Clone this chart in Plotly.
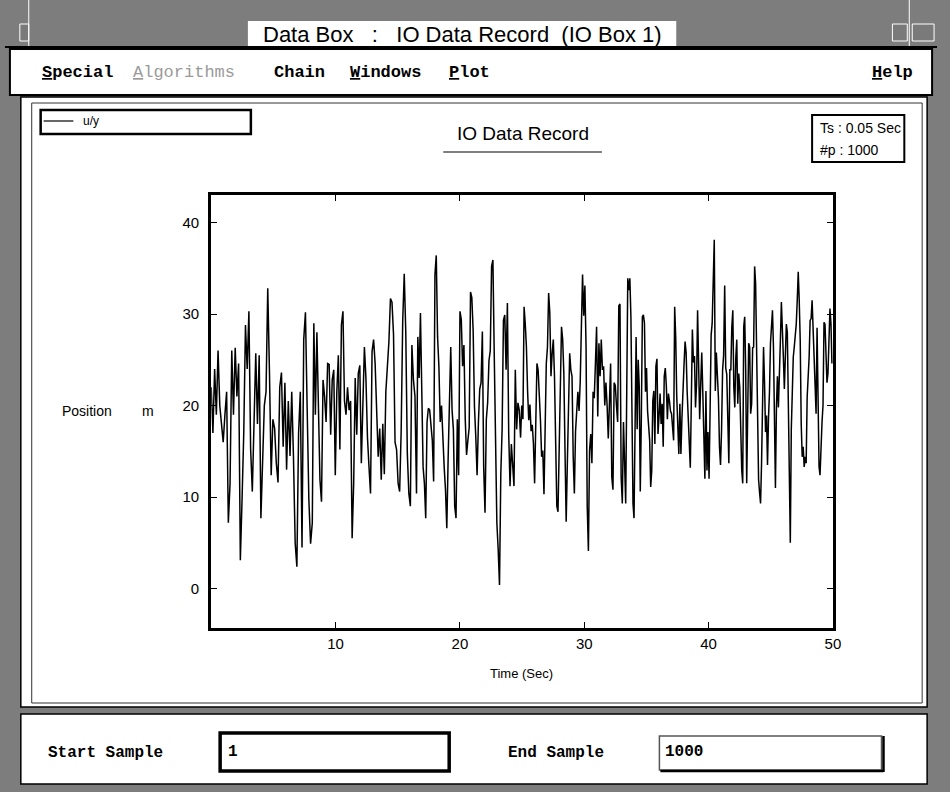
import numpy as np
import plotly.graph_objects as go

# ---------------- data ----------------
seg_t0 = [0.0, 8.13, 16.51, 24.88, 33.25, 41.63]
seg_t1 = [8.13, 16.51, 24.88, 33.25, 41.63, 50.0]

seg1 = [22, 17, 24, 19, 26, 20, 18, 16, 19, 21.5, 7.2, 11.5, 26, 19, 26.3, 21, 24.6, 3.1, 9.7, 17,
        28.8, 24, 30.3, 15.3, 10.6, 20, 25.7, 18, 25.5, 7.7, 15, 20, 21.5, 32.8, 23.6, 12.4, 18.5,
        17.5, 13.7, 11.6, 22, 23.6, 15.5, 22.5, 13, 20.5, 14.5, 21.5, 14.5, 5, 2.4, 17, 21.5, 4.5,
        27.2, 30.2, 19.7, 9.7, 4.9]
seg2 = [7.2, 29, 19, 28, 21, 11.9, 9.5, 22.8, 21, 18.2, 24.6, 24.5, 16.8, 22.8, 23.9, 12.4, 21.5,
        25.5, 15.2, 28.8, 30.3, 20.5, 19, 22, 19.5, 20.5, 5.5, 11.5, 23, 16.8, 23.5, 24.4, 13.7, 20.5,
        26.4, 23, 16.5, 13.3, 10.4, 25.9, 27.2, 24.6, 18.8, 14.4, 17.5, 11.9, 18, 12.5, 21.5, 24, 27,
        31.7, 31.3, 27.8, 16, 15.2, 11.5, 10.6, 17.3, 29.2, 34.4, 28, 14.8, 10.4, 9, 26.6, 22.8, 21]
seg3 = [10.4, 27.5, 23, 30.1, 21, 13.3, 11.5, 7.7, 18.2, 19.7, 19.5, 17.4, 16.2, 11.7, 34.3, 36.4,
        27.5, 24.3, 18.2, 20, 15.8, 13.3, 10.8, 6.6, 14.1, 22.5, 26.4, 19.5, 17.4, 9, 7.7, 18.5, 12.4,
        30.3, 29.4, 24.3, 26.6, 18.5, 14.6, 16.2, 17.6, 32.4, 31.8, 28.2, 19.9, 16.6, 12.4, 18.2, 21.8,
        22.5, 28.1, 13.3, 8.3, 18.5, 20.3, 24.9, 26, 35.2, 35.9, 25.7, 14.1, 7.2, 4.3, 0.4, 12.6, 17.4,
        29.3, 29.9, 23.9, 31.2, 16.9, 11.2, 15.8, 13.3, 11.2, 23.9, 17.4, 20.3, 19.5]
seg4 = [16.5, 20, 18.5, 30.8, 28.9, 26.4, 21.6, 18.4, 20.1, 17.2, 17.9, 15.8, 11.5, 17.9, 24.6, 23.9,
        21.4, 18.4, 14.4, 15.1, 10.3, 16.6, 24.6, 26.4, 32.3, 30.1, 23.2, 25.7, 27.2, 23.2, 15.1, 9, 8.4,
        14.7, 24.6, 28.6, 27.2, 23.5, 15.1, 7.3, 13.7, 20.3, 25.7, 23.9, 23.2, 14.4, 10.4, 17.2, 20.1,
        21.5, 19.4, 22.6, 28.6, 34.3, 29.8, 33.1, 26.4, 9, 4.1, 15.1, 16.9, 13.7, 21.5, 20.8, 24.6, 28.6,
        18.8, 26.8, 23.2, 27.2, 23.9, 24.3, 20, 22.5, 20, 16.4, 20.3, 24.6, 12.2, 10.8, 22.5, 22.2, 20,
        18.2, 30.9, 31.1, 12.2, 9.3, 18.2]
seg5 = [12, 9.3, 21.5, 33.9, 32.6, 33.9, 29.7, 21.5, 9.3, 7.7, 19.5, 27.5, 17.4, 25, 22.1, 10.6, 18.5,
        29.7, 29.9, 29, 21.5, 24.1, 19.4, 17.9, 16.2, 11.1, 12.9, 20.5, 21.6, 15.8, 24.3, 25.1, 16.9,
        18.8, 21.3, 18, 20.2, 15.5, 23.2, 24.1, 22.2, 18.5, 21.3, 20.5, 19.4, 19.1, 18, 16.2, 30.8, 27.5,
        21, 18, 14.7, 20.2, 14.7, 18.7, 23, 24.5, 27, 25.8, 21.5, 17.9, 15.5, 13.2, 20.5, 28.3, 24.7,
        25.4, 19.8, 22.3, 30.4, 24.3, 18.5, 22.3, 25.8, 21.5, 17.1, 12, 21.6, 12.9, 17.1, 12, 19.5, 27.7,
        29, 35.9, 38.1, 21.6, 25.8, 23.3, 20.9, 15.5, 13.5, 17.3, 23.9, 25.5, 33.1, 24.1, 23.4, 18.5]
seg6 = [13.7, 23.9, 23.9, 28.6, 30.4, 22, 19.8, 25.2, 27.2, 20.2, 23.5, 22, 15.2, 13, 11.5, 28.6, 29.7,
        23.9, 11.5, 23.2, 26.8, 26.4, 19.1, 20.2, 26.3, 26.4, 35.2, 33.3, 25.3, 16.9, 11.9, 10.5, 9.3,
        13.7, 23.2, 26.4, 22.5, 17.1, 18.9, 13.5, 18.6, 21.5, 26.8, 29, 30.4, 26.4, 19.5, 11, 19.8, 23.2,
        19.8, 22.7, 27.1, 31.3, 29, 25.3, 21.8, 24.7, 28.9, 28, 21.1, 11.5, 5, 17.4, 22.5, 25.3, 26.4,
        27.5, 28.9, 31.5, 34.6, 31.5, 27.1, 18, 14.4, 15.5, 13.3, 14.4, 13.7, 20.9, 23.1, 25.3, 29.3,
        29.5, 31.5, 27.8, 26, 21.6, 19.1, 28.5, 17.3, 13.3, 12.4, 15.9, 18.2, 20, 29.1, 28.9, 24.6,
        22.5, 23.5, 27.5, 30.6, 29, 24.6]
segments = [seg1, seg2, seg3, seg4, seg5, seg6]

x_ticks = [10, 20, 30, 40, 50]
y_ticks = [0, 10, 20, 30, 40]
x_range = [0, 50]
y_range = [-4.3, 43]

# time stamps: each segment's samples evenly spread over its time span
t_all, y_all = [], []
for t0, t1, seg in zip(seg_t0, seg_t1, segments):
    t_all.extend(np.linspace(t0, t1, len(seg), endpoint=False).tolist())
    y_all.extend(seg)

# ---------------- figure ----------------
W, H = 950, 792
def px(x):
    return x / W
def py(y):
    return 1 - y / H

fig = go.Figure()
fig.add_trace(go.Scatter(x=t_all, y=y_all, mode="lines",
                         line=dict(color="black", width=1.5), showlegend=False,
                         hoverinfo="skip"))

shapes = []
def rect(x0, y0, x1, y1, fill="white", line="black", lw=1.0, layer="below"):
    shapes.append(dict(type="rect", xref="paper", yref="paper",
                       x0=px(x0), x1=px(x1), y0=py(y1), y1=py(y0),
                       fillcolor=fill, line=dict(color=line, width=lw), layer=layer))
def hline(x0, x1, y, color="black", lw=1.0, layer="below"):
    shapes.append(dict(type="line", xref="paper", yref="paper",
                       x0=px(x0), x1=px(x1), y0=py(y), y1=py(y),
                       line=dict(color=color, width=lw), layer=layer))
def vline(x, y0, y1, color="black", lw=1.0, layer="below"):
    shapes.append(dict(type="line", xref="paper", yref="paper",
                       x0=px(x), x1=px(x), y0=py(y0), y1=py(y1),
                       line=dict(color=color, width=lw), layer=layer))

# title bar decorations
rect(20, 24, 29, 41, fill="#7a7a7a", line="white", lw=1)
rect(900, 24, 915, 41, fill="#7a7a7a", line="white", lw=1)
rect(920, 24, 942, 41, fill="#7a7a7a", line="white", lw=1)
vline(29, 0, 46, color="white", lw=1)
vline(917, 0, 46, color="white", lw=1)
rect(250, 21, 682, 46, fill="white", line="white", lw=0)
hline(5, 945, 47, lw=2)
# menu bar
rect(10, 49, 940, 95, fill="white", line="black", lw=2)
# main panel
rect(21, 97, 935, 707, fill="white", line="black", lw=1.5)
rect(32, 103, 930, 703, fill="white", line="#333333", lw=1)
# legend box
rect(41, 110, 253, 134, fill="white", line="black", lw=2.5)
hline(44, 74, 121, lw=1.2, layer="above")
# title underline
hline(447, 607, 152, lw=1.2)
# Ts box
rect(819, 115, 912, 162, fill="rgba(0,0,0,0)", line="black", lw=2, layer="above")
# bottom panel
rect(21, 714, 935, 784, fill="white", line="black", lw=1.5)
# text fields
rect(222, 733, 453, 771, fill="white", line="black", lw=3.5)
rect(665, 736, 889, 770, fill="white", line="#555555", lw=1.5)
hline(666, 891, 771, lw=2.5)
vline(891, 736, 772, lw=2.5)

ann = []
def text(x, y, s, size=14, family="Liberation Sans", color="black", xanchor="left", bold=False):
    ann.append(dict(x=px(x), y=py(y), xref="paper", yref="paper", text=s, showarrow=False,
                    xanchor=xanchor, yanchor="middle",
                    font=dict(size=size, family=family, color=color,
                              weight="bold" if bold else "normal")))

text(466, 34, "Data Box &nbsp;&nbsp;: &nbsp;&nbsp;IO Data Record &nbsp;(IO Box 1)", size=22,
     family="Liberation Sans Narrow, Liberation Sans", xanchor="center")
menu_font = "Liberation Mono, DejaVu Sans Mono"
text(40, 72, "<u>S</u>pecial", size=17, family=menu_font, bold=True)
text(132, 72, "<u>A</u>lgorithms", size=17, family=menu_font, color="#9a9a9a")
text(274, 72, "Chain", size=17, family=menu_font, bold=True)
text(351, 72, "<u>W</u>indows", size=17, family=menu_font, bold=True)
text(451, 72, "<u>P</u>lot", size=17, family=menu_font, bold=True)
text(923, 72, "<u>H</u>elp", size=17, family=menu_font, bold=True, xanchor="right")

text(82, 121, "u/y", size=12, family="Liberation Sans Narrow, Liberation Sans")
text(527, 133, "IO Data Record", size=19, xanchor="center")
text(825, 128, "Ts : 0.05 Sec", size=14, family="Liberation Sans Narrow, Liberation Sans")
text(825, 150, "#p : 1000", size=14, family="Liberation Sans Narrow, Liberation Sans")
text(88, 411, "Position", size=14, family="Liberation Sans Narrow, Liberation Sans", xanchor="center")
text(149, 411, "m", size=14, family="Liberation Sans Narrow, Liberation Sans", xanchor="center")
text(526, 673, "Time (Sec)", size=13, family="Liberation Sans Narrow, Liberation Sans", xanchor="center")

text(46, 753, "Start Sample", size=16, family=menu_font, bold=True)
text(228, 752, "1", size=16, family=menu_font, bold=True)
text(510, 753, "End Sample", size=16, family=menu_font, bold=True)
text(669, 752, "1000", size=16, family=menu_font, bold=True)

fig.update_layout(
    width=W, height=H,
    margin=dict(l=0, r=0, t=0, b=0),
    paper_bgcolor="#7d7d7d",
    plot_bgcolor="white",
    shapes=shapes,
    annotations=ann,
    xaxis=dict(domain=[px(213), px(840)], range=x_range, tickvals=x_ticks,
               showgrid=False, zeroline=False, showline=True, linewidth=3, linecolor="black",
               mirror="ticks", ticks="inside", ticklen=6, tickwidth=1, tickcolor="black",
               tickfont=dict(size=15, family="Liberation Sans Narrow, Liberation Sans", color="black")),
    yaxis=dict(domain=[py(628), py(195)], range=y_range, tickvals=y_ticks,
               showgrid=False, zeroline=False, showline=True, linewidth=3, linecolor="black",
               mirror="ticks", ticks="inside", ticklen=6, tickwidth=1, tickcolor="black",
               ticklabelstandoff=6,
               tickfont=dict(size=15, family="Liberation Sans Narrow, Liberation Sans", color="black")),
)

fig.write_html("out.html", config={"displayModeBar": False},
               post_script="document.body.style.margin='0';document.body.style.overflow='hidden';")
